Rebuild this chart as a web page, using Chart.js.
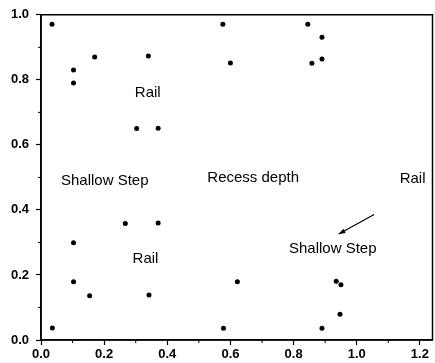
<!DOCTYPE html>
<html>
<head>
<meta charset="utf-8">
<script src="https://cdn.jsdelivr.net/npm/chart.js@4"></script>
<style>
  html, body { margin: 0; padding: 0; background: #fff; }
  #wrap { width: 435px; height: 363px; }
</style>
</head>
<body>
<div id="wrap"><canvas id="grafico" width="435" height="363"></canvas></div>
<script>
// points
const xValues = [0.035, 0.103, 0.103, 0.170, 0.340, 0.303, 0.371,
                 0.576, 0.600, 0.845, 0.890, 0.890, 0.858,
                 0.036, 0.103, 0.267, 0.371, 0.103, 0.154, 0.342,
                 0.622, 0.578, 0.935, 0.950, 0.947, 0.890];
const yValues = [0.971, 0.830, 0.790, 0.870, 0.873, 0.650, 0.651,
                 0.971, 0.852, 0.971, 0.931, 0.864, 0.851,
                 0.037, 0.299, 0.358, 0.360, 0.179, 0.136, 0.138,
                 0.179, 0.036, 0.181, 0.170, 0.079, 0.036];

const xTicks = [0.0, 0.2, 0.4, 0.6, 0.8, 1.0, 1.2];
const yTicks = [0.0, 0.2, 0.4, 0.6, 0.8, 1.0];

// region labels (text, x, y in data units)
const labelTexts = ['Rail', 'Shallow Step', 'Recess depth', 'Rail', 'Rail', 'Shallow Step'];
const labelX = [0.338, 0.202, 0.672, 1.177, 0.331, 0.924];
const labelY = [0.760, 0.489, 0.498, 0.495, 0.250, 0.281];
const arrowFrom = [1.055, 0.386];
const arrowTo = [0.943, 0.326];

const FONT = "Arial, 'Liberation Sans', sans-serif";

const frameAndNotes = {
    id: 'frameAndNotes',
    afterDraw(chart) {
        const ctx = chart.ctx;
        const x = chart.scales.x, y = chart.scales.y;
        const a = chart.chartArea;
        ctx.save();
        ctx.strokeStyle = '#000';
        ctx.lineWidth = 1.5;
        ctx.beginPath();
        ctx.moveTo(a.left, a.bottom);
        ctx.lineTo(a.left, a.top);
        ctx.lineTo(a.right, a.top);
        ctx.lineTo(a.right, a.bottom);
        ctx.lineTo(a.left, a.bottom);
        ctx.stroke();

        // minor ticks
        ctx.lineWidth = 1;
        for (let v = 0.1; v < 1.24; v += 0.2) {
            const px = x.getPixelForValue(v);
            ctx.beginPath();
            ctx.moveTo(px, a.bottom);
            ctx.lineTo(px, a.bottom + 3);
            ctx.stroke();
        }
        for (let v = 0.1; v < 1.0; v += 0.2) {
            const py = y.getPixelForValue(v);
            ctx.beginPath();
            ctx.moveTo(a.left, py);
            ctx.lineTo(a.left - 3, py);
            ctx.stroke();
        }

        ctx.fillStyle = '#000';
        ctx.font = '15px ' + FONT;
        ctx.textAlign = 'center';
        ctx.textBaseline = 'middle';
        labelTexts.forEach((t, i) => {
            ctx.fillText(t, x.getPixelForValue(labelX[i]), y.getPixelForValue(labelY[i]));
        });

        // arrow
        const x1 = x.getPixelForValue(arrowFrom[0]), y1 = y.getPixelForValue(arrowFrom[1]);
        const x2 = x.getPixelForValue(arrowTo[0]), y2 = y.getPixelForValue(arrowTo[1]);
        ctx.lineWidth = 1.2;
        ctx.beginPath();
        ctx.moveTo(x1, y1);
        ctx.lineTo(x2, y2);
        ctx.stroke();
        const ang = Math.atan2(y2 - y1, x2 - x1);
        ctx.beginPath();
        ctx.moveTo(x2, y2);
        ctx.lineTo(x2 - 7 * Math.cos(ang - 0.35), y2 - 7 * Math.sin(ang - 0.35));
        ctx.lineTo(x2 - 7 * Math.cos(ang + 0.35), y2 - 7 * Math.sin(ang + 0.35));
        ctx.closePath();
        ctx.fill();
        ctx.restore();
    }
};

function criarGrafico() {
    const ctx = document.getElementById('grafico');
    return new Chart(ctx, {
        type: 'scatter',
        data: {
            datasets: [{
                data: xValues.map((v, i) => ({ x: v, y: yValues[i] })),
                backgroundColor: '#000',
                borderColor: '#000',
                pointRadius: 2.5,
                pointHoverRadius: 2.5,
                borderWidth: 0
            }]
        },
        options: {
            responsive: false,
            animation: false,
            layout: { padding: { top: 11, right: 1, left: 0, bottom: 0 } },
            plugins: {
                legend: { display: false },
                tooltip: { enabled: false }
            },
            scales: {
                x: {
                    type: 'linear',
                    min: 0,
                    max: 1.24,
                    afterBuildTicks: (s) => { s.ticks = xTicks.map(v => ({ value: v })); },
                    afterFit: (s) => { s.height = 23; },
                    grid: { drawOnChartArea: false, color: '#000', tickLength: 5, tickWidth: 1.2 },
                    border: { color: '#000', width: 1.5 },
                    ticks: {
                        color: '#000',
                        padding: 2,
                        maxRotation: 0,
                        font: { size: 13, family: FONT, weight: 'bold' },
                        callback: (v) => Number(v).toFixed(1)
                    }
                },
                y: {
                    type: 'linear',
                    min: 0,
                    max: 1.0,
                    afterBuildTicks: (s) => { s.ticks = yTicks.map(v => ({ value: v })); },
                    afterFit: (s) => { s.width = 41; },
                    grid: { drawOnChartArea: false, color: '#000', tickLength: 5, tickWidth: 1.2 },
                    border: { color: '#000', width: 1.5 },
                    ticks: {
                        color: '#000',
                        padding: 7,
                        font: { size: 13, family: FONT, weight: 'bold' },
                        callback: (v) => Number(v).toFixed(1)
                    }
                }
            }
        },
        plugins: [frameAndNotes]
    });
}

criarGrafico();
</script>
</body>
</html>
